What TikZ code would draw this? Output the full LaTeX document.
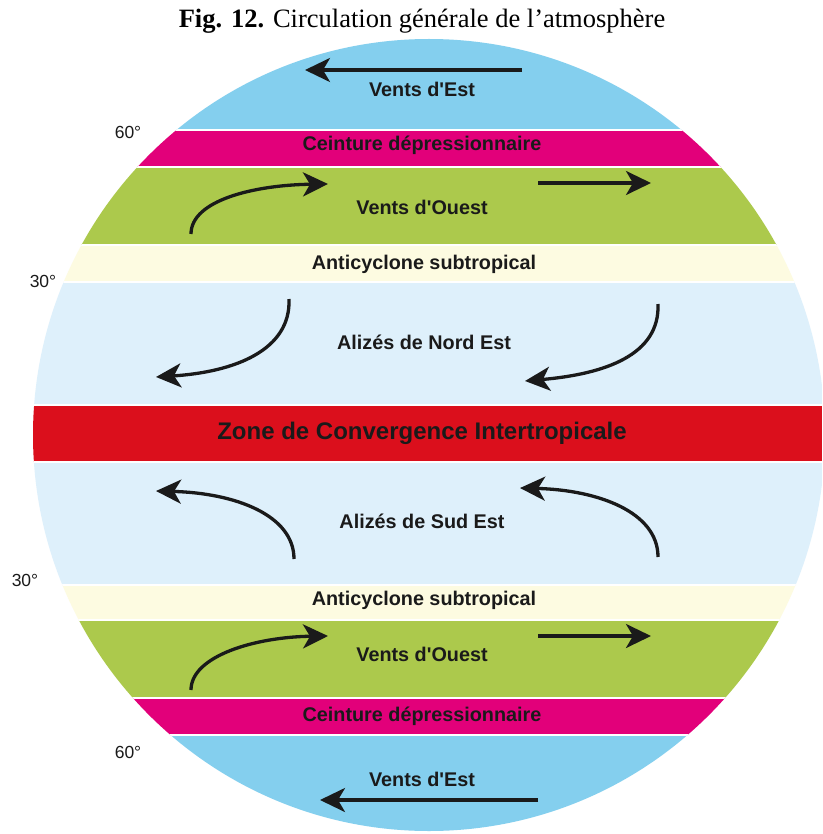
\documentclass[tikz,border=0pt]{standalone}
\usepackage{fontspec}
\setmainfont{Liberation Serif}
\newfontfamily\arialf{Liberation Sans}
\usetikzlibrary{arrows.meta}
\definecolor{capblue}{HTML}{84CFEE}
\definecolor{beltpink}{HTML}{E2007A}
\definecolor{westgreen}{HTML}{ACC94C}
\definecolor{anticream}{HTML}{FDFBE1}
\definecolor{tradeblue}{HTML}{DEF0FB}
\definecolor{itczred}{HTML}{DB0F1C}
\definecolor{inkdark}{HTML}{1A1A1A}
\begin{document}
\begin{tikzpicture}[x=1pt,y=-1pt,
  lab/.style={font=\arialf\bfseries\fontsize{19.8}{22}\selectfont, text=inkdark, inner sep=0pt},
  biglab/.style={font=\arialf\bfseries\fontsize{24}{27}\selectfont, text=inkdark, inner sep=0pt},
  deg/.style={font=\arialf\fontsize{17.5}{20}\selectfont, text=inkdark, inner sep=0pt},
  wind/.style={line width=3.3pt, draw=inkdark, -{Stealth[length=25pt,width=24pt,inset=7pt]}},
  sep/.style={draw=white, line width=2pt}]
\useasboundingbox (0,0) rectangle (822,834);
\fill[white] (0,0) rectangle (822,834);
\begin{scope}
  \clip (0,0) rectangle (822,834);
  \clip (429,435) circle [radius=396];
  \fill[capblue] (0,0) rectangle (822,130);
  \fill[beltpink] (0,130) rectangle (822,167);
  \fill[westgreen] (0,167) rectangle (822,245);
  \fill[anticream] (0,245) rectangle (822,282);
  \fill[tradeblue] (0,282) rectangle (822,405);
  \fill[itczred] (0,405) rectangle (822,462);
  \fill[tradeblue] (0,462) rectangle (822,585);
  \fill[anticream] (0,585) rectangle (822,620);
  \fill[westgreen] (0,620) rectangle (822,698);
  \fill[beltpink] (0,698) rectangle (822,735);
  \fill[capblue] (0,735) rectangle (822,834);
  \foreach \yy in {130,167,245,282,405,462,585,620,698,735}
    \draw[sep] (0,\yy) -- (822,\yy);
\end{scope}

% title
\node[inner sep=0pt, font=\fontsize{26.5}{29}\selectfont] (title) at (422,21)
  {\textbf{Fig. 12.} Circulation générale de l’atmosphère};

% labels
\node[lab] (estN) at (422,89) {Vents d'Est};
\node[lab] (ceintN) at (422,145) {Ceinture dépressionnaire};
\node[lab] (ouestN) at (422,207) {Vents d'Ouest};
\node[lab] (antiN) at (424,264) {Anticyclone subtropical};
\node[lab] (alizN) at (424,342) {Alizés de Nord Est};
\node[biglab] (zcit) at (422,433) {Zone de Convergence Intertropicale};
\node[lab] (alizS) at (422,521) {Alizés de Sud Est};
\node[lab] (antiS) at (424,600) {Anticyclone subtropical};
\node[lab] (ouestS) at (422,654) {Vents d'Ouest};
\node[lab] (ceintS) at (422,716) {Ceinture dépressionnaire};
\node[lab] (estS) at (422,779) {Vents d'Est};

\node[deg] (d60N) at (128,132) {60°};
\node[deg] (d30N) at (43,281) {30°};
\node[deg] (d30S) at (25,580) {30°};
\node[deg] (d60S) at (128,752) {60°};

% arrow end points
\coordinate (e1a) at (522,70);  \coordinate (e1b) at (305,70);
\coordinate (w1a) at (191,234); \coordinate (w1b) at (328,184);
\coordinate (w2a) at (538,183); \coordinate (w2b) at (651,183);
\coordinate (n1a) at (289,299); \coordinate (n1b) at (156,377);
\coordinate (n2a) at (658,304); \coordinate (n2b) at (525,381);
\coordinate (s1a) at (294,559); \coordinate (s1b) at (156,491);
\coordinate (s2a) at (658,557); \coordinate (s2b) at (520,488);
\coordinate (w3a) at (191,690); \coordinate (w3b) at (328,636);
\coordinate (w4a) at (538,636); \coordinate (w4b) at (651,636);
\coordinate (e2a) at (538,800); \coordinate (e2b) at (320,800);

\draw[wind] (e1a) -- (e1b);
\draw[wind] (w1a) .. controls (191,200) and (255,185) .. (w1b);
\draw[wind] (w2a) -- (w2b);
\draw[wind] (n1a) .. controls (291,350) and (235,372) .. (n1b);
\draw[wind] (n2a) .. controls (660,355) and (605,374) .. (n2b);
\draw[wind] (s1a) .. controls (294,515) and (235,493) .. (s1b);
\draw[wind] (s2a) .. controls (658,512) and (598,490) .. (s2b);
\draw[wind] (w3a) .. controls (191,656) and (255,637) .. (w3b);
\draw[wind] (w4a) -- (w4b);
\draw[wind] (e2a) -- (e2b);
\end{tikzpicture}
\end{document}
